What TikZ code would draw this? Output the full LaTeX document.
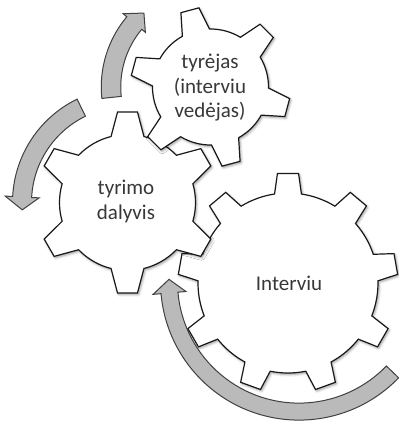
\documentclass[tikz,border=0pt]{standalone}
\usepackage{fontspec}
\setmainfont{Carlito}
\usetikzlibrary{shadows.blur}
\tikzset{
  gearshape/.style={draw=black!90, line width=1.2pt, fill=white, line join=miter,
    blur shadow={shadow xshift=1.2pt, shadow yshift=-1.5pt, shadow blur radius=2.5pt, shadow opacity=40}},
  arrowshape/.style={draw=black!75, line width=1pt, fill=black!27, line join=miter},
  gearlabel/.style={font=\fontsize{21}{24.5}\selectfont, text=black!78, align=center, inner sep=0pt},
}
% center x, center y, teeth, first tooth angle, tip radius, root radius, tip half-angle, base half-angle
\newcommand\drawgear[8]{%
  \begin{scope}[shift={(#1,#2)}]
  \path[gearshape] (#4-#8:#6)
   \foreach \k [evaluate=\k as \th using {#4+(\k-1)*360/#3}] in {1,...,#3}{
     -- (\th-#7:#5) -- (\th+#7:#5) -- (\th+#8:#6)
     arc[start angle=\th+#8, end angle=\th+360/#3-#8, radius=#6]
   } -- cycle;
  \end{scope}}
\begin{document}
\begin{tikzpicture}[x=1pt,y=1pt]
\useasboundingbox (0,0) rectangle (399,-426);
% gears
\drawgear{288}{-283}{9}{90}{110}{90}{5.5}{8.6}
\drawgear{127.5}{-202.5}{6}{90}{91}{68}{6.3}{14}
\drawgear{210.5}{-87}{6}{105}{80}{58}{6.7}{14}
% labels
\node[gearlabel] (tyrejas) at (210,-88) {tyrėjas\\(interviu\\vedėjas)};
\node[gearlabel] (dalyvis) at (126,-201.5) {tyrimo\\dalyvis};
\node[gearlabel] (interviu) at (289,-283) {Interviu};
% arrows
\begin{scope}[shift={(210.5,-87)}]
\path[arrowshape] (186:109.25) arc[start angle=186,end angle=140,radius=109.25]
  -- (140:114) -- (132:99.5) -- (140:85) -- (140:89.75)
  arc[start angle=140,end angle=186,radius=89.75] -- cycle;
\end{scope}
\begin{scope}[shift={(127.5,-202.5)}]
\path[arrowshape] (116:115) arc[start angle=116,end angle=177,radius=115]
  -- (177:122.5) -- (184:105.5) -- (177:88.5) -- (177:96)
  arc[start angle=177,end angle=116,radius=96] -- cycle;
\end{scope}
\begin{scope}[shift={(299,-281.6)}]
\path[arrowshape] (-44:138.5) arc[start angle=-44,end angle=-175,radius=138.5]
  -- (-175:146.5) -- (-181:130) -- (-175:113.5) -- (-175:121.5)
  arc[start angle=-175,end angle=-44,radius=121.5] -- cycle;
\end{scope}
\end{tikzpicture}
\end{document}
